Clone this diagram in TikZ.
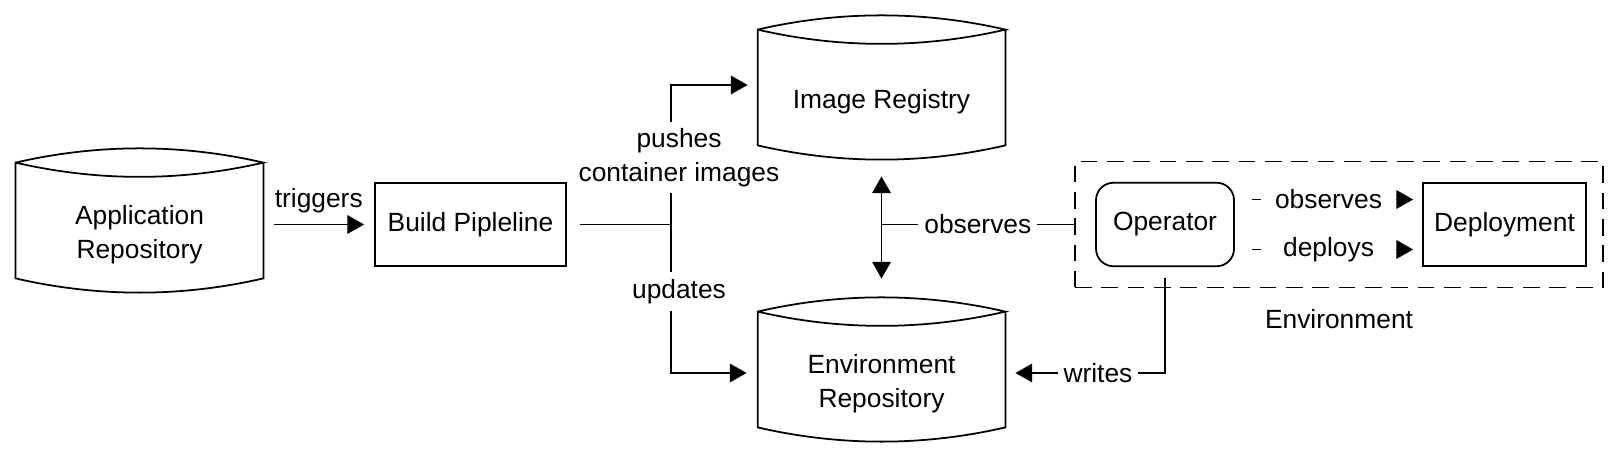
\documentclass[tikz,border=0pt]{standalone}
\usepackage{fontspec}
\setmainfont{Liberation Sans}
\usetikzlibrary{arrows.meta,positioning}

\begin{document}
\begin{tikzpicture}[>={Triangle[length=9.5pt,width=10.5pt]},line width=1pt,font=\fontsize{15}{19.3}\selectfont]
\tikzstyle{repo}=[draw=none,inner sep=0pt,minimum width=4.92cm,minimum height=2.28cm,align=center]
\tikzstyle{box}=[draw,inner sep=0pt,minimum height=1.67cm,align=center]
\tikzstyle{lbl}=[fill=white,minimum width=2.7cm]

\useasboundingbox (0,0) rectangle (32.4,9.1);

\node[repo]		(app) at (2.79,4.41) {Application\\Repository};
\node[box,minimum width=3.82cm]	(build) [right of=app,node distance=6.62cm,yshift=.2cm] {Build Pipleline};
\coordinate[right of=build,node distance=4.01cm] (fork);
\node		(push) [above of=fork,node distance=1.34cm,xshift=.16cm,align=center] {pushes\\container images};
\node		(upd) [below of=fork,node distance=1.34cm,xshift=.16cm] {updates};
\node[repo]		(reg) [right of=build,node distance=8.22cm,yshift=2.46cm] {Image Registry};
\node[repo]		(env) [below of=reg,node distance=5.64cm] {Environment\\Repository};
\node[box,minimum width=2.76cm,rounded corners=.35cm]	(op) [right of=build,node distance=13.89cm] {Operator};
\node[box,minimum width=3.26cm]	(dep) [right of=op,node distance=6.79cm] {Deployment};
\node[draw,dash pattern=on 9.5pt off 5.5pt,minimum width=10.56cm,minimum height=2.52cm]	(envbox) [right of=op,node distance=3.48cm] {};
\node		(envlbl) [below of=envbox,node distance=1.9cm] {Environment};

% repository outlines
\foreach \n in {app,reg,env}
  \draw ([yshift=.28cm]\n.north west) .. controls +(1.64,.38) and +(-1.64,.38) .. ([yshift=.28cm]\n.north east)
        .. controls +(-1.64,-.38) and +(1.64,-.38) .. ([yshift=.28cm]\n.north west) -- ([yshift=.28cm]\n.south west)
        .. controls +(1.64,-.38) and +(-1.64,-.38) .. ([yshift=.28cm]\n.south east) -- ([yshift=.28cm]\n.north east);

\path
(app.east |- build) edge[->,shorten <=.22cm,shorten >=.2cm] node[above=3pt] {triggers} (build)
([yshift=.5cm]op.east) edge[->,shorten <=.34cm,shorten >=.18cm] node[lbl] {observes} ([yshift=.5cm]dep.west)
([yshift=-.5cm]op.east) edge[->,shorten <=.34cm,shorten >=.18cm] node[lbl] {deploys} ([yshift=-.5cm]dep.west)
;

\draw[shorten <=.26cm] (build) -- (fork);
\draw (fork |- push.south) -- (fork |- upd.north);
\draw[->,shorten >=.2cm] (fork |- push.north) |- ([yshift=.33cm]reg.west);
\draw[->,shorten >=.22cm] (fork |- upd.south) |- ([yshift=.21cm]env.west);
\draw[<->,shorten <=.34cm,shorten >=.94cm] (reg.south) -- (env.north);
\draw (envbox.west) -- node[fill=white] {observes} (envbox.west -| reg.south);
\draw[->,shorten <=.22cm,shorten >=.2cm] (op.south) |- node[pos=.71,fill=white] {writes} ([yshift=.21cm]env.east);
    \end{tikzpicture}
\end{document}
